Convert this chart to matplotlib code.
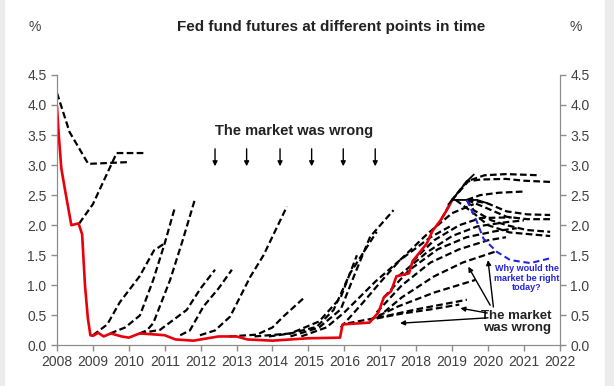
import matplotlib.pyplot as plt
from matplotlib.patches import Rectangle

# actual fed funds rate (red)
fed_years = [2008.0, 2008.05, 2008.12, 2008.22, 2008.4, 2008.6, 2008.7, 2008.78, 2008.86,
             2008.93, 2009.0, 2009.15, 2009.3, 2009.5, 2009.8, 2010.0, 2010.3, 2010.8,
             2011.0, 2011.3, 2011.8, 2012.0, 2012.5, 2013.0, 2013.3, 2014.0, 2015.0,
             2015.88, 2015.95, 2016.7, 2016.95, 2017.1, 2017.3, 2017.45, 2017.8, 2017.9,
             2018.1, 2018.3, 2018.45, 2018.7, 2018.9, 2019.0]
fed_values = [3.97, 3.5, 2.95, 2.6, 2.0, 2.03, 1.85, 1.0, 0.45,
              0.17, 0.16, 0.21, 0.15, 0.2, 0.15, 0.13, 0.2, 0.18,
              0.17, 0.1, 0.08, 0.1, 0.15, 0.15, 0.1, 0.08, 0.12,
              0.13, 0.35, 0.38, 0.55, 0.8, 0.9, 1.15, 1.2, 1.4,
              1.55, 1.7, 1.9, 2.1, 2.3, 2.42]

# futures curves, grouped by period (years, values)
curves_2008 = [
    ([2008.0, 2008.35, 2008.87, 2010.0], [4.2, 3.55, 3.02, 3.05]),
    ([2008.62, 2009.0, 2009.66, 2010.45], [2.03, 2.35, 3.2, 3.2]),
]
curves_2009_2013 = [
    ([2009.0, 2009.4, 2009.75, 2010.3, 2010.7, 2011.0], [0.17, 0.35, 0.72, 1.15, 1.58, 1.7]),
    ([2009.48, 2009.9, 2010.31, 2010.68, 2011.0, 2011.29], [0.2, 0.3, 0.5, 1.09, 1.7, 2.31]),
    ([2010.3, 2010.5, 2010.68, 2011.15, 2011.5, 2011.84], [0.2, 0.25, 0.37, 1.09, 1.75, 2.43]),
    ([2010.3, 2010.87, 2011.61, 2012.0, 2012.4], [0.2, 0.26, 0.59, 0.95, 1.26]),
    ([2011.43, 2011.7, 2012.08, 2012.5, 2012.87], [0.17, 0.25, 0.65, 0.95, 1.26]),
    ([2011.98, 2012.4, 2012.82, 2013.38, 2013.75, 2014.4], [0.17, 0.25, 0.48, 1.14, 1.5, 2.31]),
    ([2012.8, 2013.56, 2014.0, 2014.3, 2014.91], [0.15, 0.18, 0.3, 0.48, 0.81]),
]
curves_2014_2016 = [
    ([2013.9, 2014.5, 2015.23, 2015.7, 2016.16, 2016.9], [0.15, 0.2, 0.31, 0.59, 1.2, 1.89]),
    ([2013.5, 2014.5, 2015.3, 2015.9, 2016.35], [0.15, 0.2, 0.4, 0.8, 1.5]),
    ([2014.5, 2015.3, 2015.9, 2016.3, 2016.72, 2017.37], [0.15, 0.3, 0.6, 1.2, 1.81, 2.25]),
    ([2014.8, 2015.5, 2016.0, 2016.86, 2017.55, 2018.4, 2019.0], [0.15, 0.3, 0.55, 1.06, 1.42, 1.8, 2.0]),
    ([2015.9, 2016.5, 2017.0, 2017.55, 2018.3, 2019.0, 2019.6], [0.3, 0.7, 1.05, 1.42, 1.85, 2.2, 2.35]),
]
curves_2017_2019 = [
    ([2017.9, 2018.5, 2019.2, 2019.8, 2020.66], [1.4, 1.75, 2.0, 2.12, 2.13]),
    ([2017.5, 2018.3, 2019.0, 2019.7, 2020.5, 2021.0], [1.15, 1.55, 1.82, 1.98, 2.05, 2.08]),
    ([2017.1, 2017.8, 2018.6, 2019.4, 2020.2, 2020.8], [0.8, 1.25, 1.6, 1.8, 1.9, 1.95]),
    ([2016.9, 2017.6, 2018.4, 2019.2, 2020.0, 2020.5], [0.55, 1.0, 1.38, 1.6, 1.75, 1.8]),
    ([2016.9, 2017.6, 2018.5, 2019.3, 2020.2], [0.45, 0.8, 1.15, 1.38, 1.56]),
    ([2016.7, 2017.5, 2018.5, 2019.65], [0.42, 0.65, 0.88, 1.09]),
    ([2016.1, 2017.0, 2018.0, 2019.41], [0.37, 0.47, 0.6, 0.76]),
    ([2016.9, 2017.6, 2018.4, 2019.2], [0.45, 0.53, 0.6, 0.68]),
    ([2018.7, 2019.0, 2019.41, 2019.9, 2020.5, 2021.45], [2.1, 2.42, 2.73, 2.83, 2.85, 2.83]),
    ([2019.0, 2019.45, 2019.8, 2020.5, 2021.0, 2021.73], [2.42, 2.73, 2.76, 2.77, 2.74, 2.72]),
    ([2019.41, 2019.78, 2020.3, 2020.99], [2.42, 2.5, 2.54, 2.56]),
    ([2019.41, 2019.96, 2020.52, 2021.1, 2021.73], [2.42, 2.37, 2.23, 2.18, 2.17]),
    ([2019.41, 2019.9, 2020.52, 2021.1, 2021.73], [2.42, 2.3, 2.14, 2.1, 2.1]),
    ([2019.41, 2019.6, 2020.1, 2020.52, 2021.08, 2021.73], [2.42, 2.25, 2.08, 2.0, 1.92, 1.89]),
    ([2019.1, 2019.6, 2020.0, 2020.6, 2021.73], [2.42, 2.2, 2.0, 1.88, 1.82]),
]
# solid black section around the 2019 peak
peak_years = [2018.9, 2019.0, 2019.41, 2019.6, 2019.0, 2019.41, 2019.7, 2019.96]
peak_values = [2.35, 2.42, 2.73, 2.84, 2.42, 2.42, 2.42, 2.37]

# current market curve (blue)
blue_years = [2019.41, 2019.69, 2019.87, 2020.24, 2020.62, 2021.18, 2021.73]
blue_values = [2.42, 2.06, 1.78, 1.56, 1.42, 1.37, 1.45]

arrow_years = [2012.4, 2013.28, 2014.21, 2015.09, 2015.97, 2016.86]

# lower annotation arrows: (tail year, tail value, head year, head value)
wrong_arrows = [
    (2020.0, 0.46, 2017.55, 0.37),
    (2019.98, 0.54, 2019.23, 0.62),
    (2020.06, 0.67, 2019.45, 1.31),
    (2020.15, 0.64, 2020.0, 1.42),
]

plt.rcParams['font.family'] = ['Liberation Sans', 'DejaVu Sans']

fig = plt.figure(figsize=(6.14, 3.86), dpi=100)
ax = fig.add_axes([0.0928, 0.105, 0.819, 0.701])
ax2 = ax.twinx()

dash = (3.0, 1.5)
for group in [curves_2008, curves_2009_2013, curves_2014_2016, curves_2017_2019]:
    for xs, ys in group:
        ax.plot(xs, ys, color='black', lw=1.6, dashes=dash, zorder=2)

ax.plot(fed_years, fed_values, color='#e8000b', lw=1.9, zorder=3)
ax.plot(peak_years[:4], peak_values[:4], color='black', lw=1.3, zorder=4)
ax.plot(peak_years[4:], peak_values[4:], color='black', lw=1.3, zorder=4)
ax.plot(blue_years, blue_values, color='#2424d8', lw=1.5, dashes=(3.0, 1.8), zorder=4)

ax.text(2014.6, 3.56, 'The market was wrong', ha='center', va='center',
        fontsize=10.5, fontweight='bold', color='#222222')
for yr in arrow_years:
    ax.annotate('', xy=(yr, 2.98), xytext=(yr, 3.27),
                arrowprops=dict(arrowstyle='-|>', color='black', lw=1.0,
                                mutation_scale=7, shrinkA=0, shrinkB=0))

ax.text(2020.8, 0.39, 'The market\nwas wrong', ha='center', va='center',
        fontsize=9.5, fontweight='bold', color='#222222', linespacing=1.05)
for x0, y0, x1, y1 in wrong_arrows:
    ax.annotate('', xy=(x1, y1), xytext=(x0, y0),
                arrowprops=dict(arrowstyle='-|>', color='black', lw=1.0,
                                mutation_scale=7, shrinkA=0, shrinkB=0))

ax.text(2021.08, 1.12, 'Why would the\nmarket be right\ntoday?', ha='center', va='center',
        fontsize=6.5, fontweight='bold', color='#2424d8', linespacing=1.1)

grey = '#8c8c8c'
for a in (ax, ax2):
    a.set_ylim(0, 4.5)
    a.set_yticks([0, 0.5, 1.0, 1.5, 2.0, 2.5, 3.0, 3.5, 4.0, 4.5])
    a.set_yticklabels([f'{v:.1f}' for v in a.get_yticks()])
    a.spines['top'].set_visible(False)
    for s in ('left', 'right', 'bottom'):
        a.spines[s].set_color(grey)
    a.tick_params(colors=grey, labelcolor='#404040', labelsize=10, length=4, width=1)
ax.set_xlim(2008, 2022)
ax.set_xticks(range(2008, 2023))
ax.tick_params(axis='x', pad=3)

fig.text(0.54, 0.93, 'Fed fund futures at different points in time', ha='center',
         va='center', fontsize=11, fontweight='bold', color='#222222')
fig.text(0.057, 0.93, '%', ha='center', va='center', fontsize=10, color='#404040')
fig.text(0.938, 0.93, '%', ha='center', va='center', fontsize=10, color='#404040')

fig.patches.append(Rectangle((0, 0), 0.006, 1, transform=fig.transFigure,
                             color='#ececec', zorder=0))
fig.patches.append(Rectangle((0.985, 0), 0.015, 1, transform=fig.transFigure,
                             color='#ececec', zorder=0))

fig.savefig('out.png', dpi=100)
